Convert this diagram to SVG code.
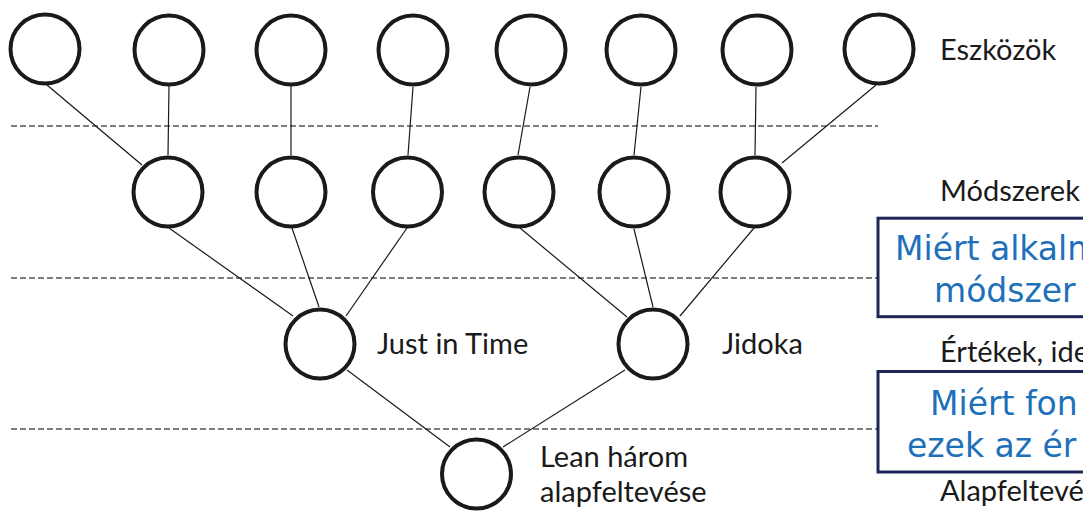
<svg xmlns="http://www.w3.org/2000/svg" width="1083" height="511" viewBox="0 0 1083 511">
<style>
.n{fill:#fff;stroke:#1a1a1a;stroke-width:4}
.c{stroke:#1a1a1a;stroke-width:1.2;fill:none}
.d{stroke:#555;stroke-width:1.3;stroke-dasharray:6 3;fill:none}
.lbl{font-family:Lato,"Liberation Sans",sans-serif;font-size:29px;fill:#1a1a1a}
.box{fill:#fff;stroke:#1f2557;stroke-width:3}
.q{font-family:"DejaVu Sans",Verdana,sans-serif;font-size:33px;fill:#1f70ba}
</style>
<rect width="1083" height="511" fill="#fff"/>
<g id="dividers">
<line class="d" x1="11" y1="126" x2="878" y2="126"/>
<line class="d" x1="11" y1="278" x2="878" y2="278"/>
<line class="d" x1="11" y1="429" x2="878" y2="429"/>
</g>
<g id="connectors">
<line class="c" x1="47" y1="85" x2="142" y2="165"/>
<line class="c" x1="169" y1="86" x2="168" y2="155"/>
<line class="c" x1="291" y1="86" x2="291" y2="155"/>
<line class="c" x1="413" y1="87" x2="408" y2="155"/>
<line class="c" x1="530" y1="87" x2="518" y2="155"/>
<line class="c" x1="641" y1="87" x2="634" y2="155"/>
<line class="c" x1="756" y1="87" x2="755" y2="155"/>
<line class="c" x1="876" y1="85" x2="782" y2="163"/>
<line class="c" x1="169" y1="228" x2="293" y2="316"/>
<line class="c" x1="292" y1="228" x2="319" y2="307"/>
<line class="c" x1="407" y1="228" x2="346" y2="316"/>
<line class="c" x1="520" y1="228" x2="627" y2="317"/>
<line class="c" x1="634" y1="229" x2="653" y2="307"/>
<line class="c" x1="754" y1="228" x2="680" y2="316"/>
<line class="c" x1="347" y1="370" x2="450" y2="447"/>
<line class="c" x1="625" y1="370" x2="503" y2="447"/>
</g>
<g id="tool-1"><circle class="n" cx="45" cy="49" r="34.5"/></g>
<g id="tool-2"><circle class="n" cx="169" cy="50" r="34.5"/></g>
<g id="tool-3"><circle class="n" cx="291" cy="50" r="34.5"/></g>
<g id="tool-4"><circle class="n" cx="413" cy="50" r="34.5"/></g>
<g id="tool-5"><circle class="n" cx="531" cy="50" r="34.5"/></g>
<g id="tool-6"><circle class="n" cx="641" cy="50" r="34.5"/></g>
<g id="tool-7"><circle class="n" cx="757" cy="50" r="34.5"/></g>
<g id="tool-8"><circle class="n" cx="879" cy="49" r="34.5"/></g>
<g id="method-1"><circle class="n" cx="168" cy="192" r="34.5"/></g>
<g id="method-2"><circle class="n" cx="291" cy="192" r="34.5"/></g>
<g id="method-3"><circle class="n" cx="407.5" cy="192" r="34.5"/></g>
<g id="method-4"><circle class="n" cx="519" cy="192" r="34.5"/></g>
<g id="method-5"><circle class="n" cx="634" cy="192" r="34.5"/></g>
<g id="method-6"><circle class="n" cx="755" cy="192" r="34.5"/></g>
<g id="jit"><circle class="n" cx="320" cy="344" r="34.5"/><text class="lbl" x="377" y="354">Just in Time</text></g>
<g id="jidoka"><circle class="n" cx="653" cy="344" r="34.5"/><text class="lbl" x="722" y="354">Jidoka</text></g>
<g id="lean"><circle class="n" cx="476.5" cy="474" r="34.5"/><text class="lbl" x="540" y="467">Lean három</text><text class="lbl" x="540" y="502">alapfeltevése</text></g>
<g id="level-labels">
<text class="lbl" x="940" y="60">Eszközök</text>
<text class="lbl" x="940" y="201">Módszerek</text>
<text class="lbl" x="940" y="362">Értékek, ide</text>
<text class="lbl" x="940" y="501">Alapfeltevé</text>
</g>
<g id="question-1"><rect class="box" x="878" y="218.2" width="300" height="98.5"/><text class="q" x="895" y="260">Miért alkalm</text><text class="q" x="934" y="302">módszer</text></g>
<g id="question-2"><rect class="box" x="878" y="371.5" width="300" height="100.5"/><text class="q" x="930" y="415">Miért fon</text><text class="q" x="907" y="457">ezek az ér</text></g>
</svg>
